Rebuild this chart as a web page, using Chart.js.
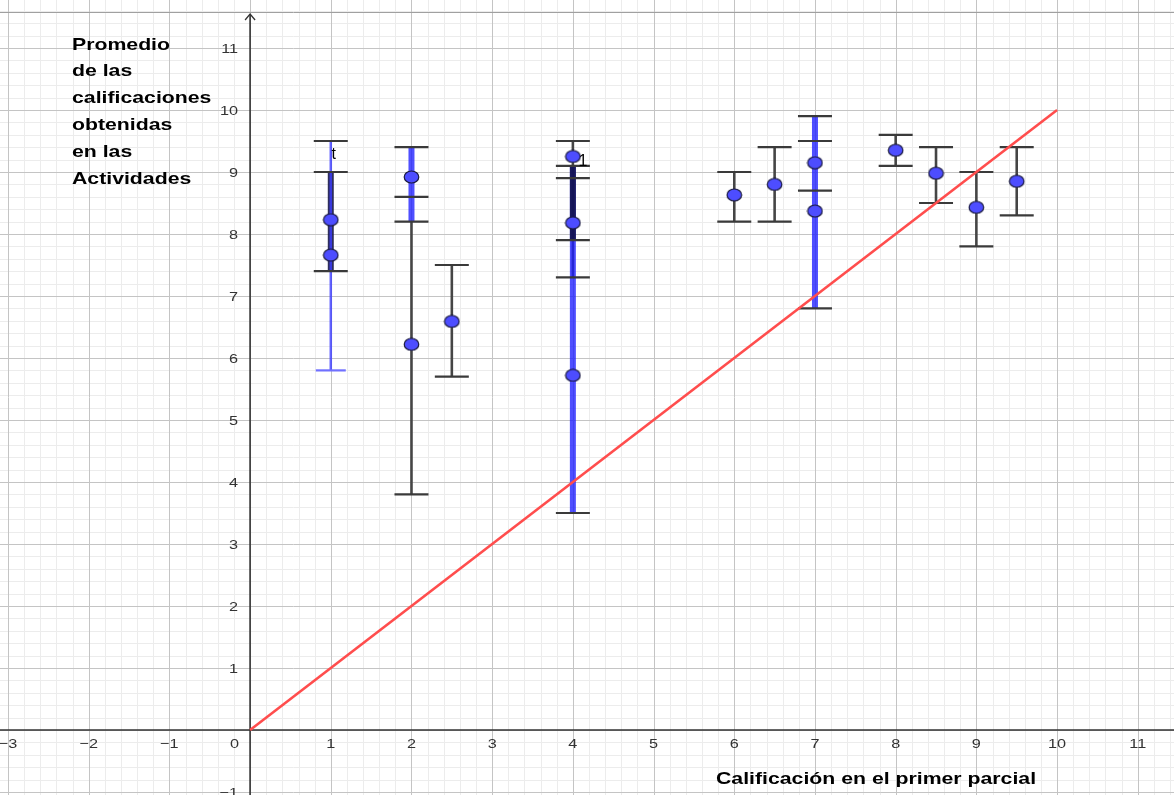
<!DOCTYPE html>
<html><head><meta charset="utf-8">
<script src="https://cdn.jsdelivr.net/npm/chart.js@4/dist/chart.umd.min.js"></script>
<style>html,body{margin:0;padding:0;background:#fff;}canvas{display:block;}</style>
</head><body>
<canvas id="c" width="1174" height="795"></canvas>
<script>
// ---- data ----
const pointX = [1, 1, 2, 2, 2.5, 4, 4, 4, 6, 6.5, 7, 7, 8, 8.5, 9, 9.5];
const pointY = [8.23, 7.66, 8.92, 6.22, 6.59, 9.25, 8.18, 5.72, 8.63, 8.80, 9.15, 8.37, 9.35, 8.98, 8.43, 8.85];

const thinBlueX = [1];
const thinBlueLow = [5.8];
const thinBlueHigh = [9.5];

const thickBlueX = [2, 4, 7];
const thickBlueLow = [8.2, 3.5, 6.8];
const thickBlueHigh = [9.4, 9.1, 9.9];

const darkX = [2, 2.5, 4, 6, 6.5, 8, 8.5, 9, 9.5];
const darkLow = [3.8, 5.7, 7.3, 8.2, 8.2, 9.1, 8.5, 7.8, 8.3];
const darkHigh = [8.2, 7.5, 9.5, 9.0, 9.4, 9.6, 9.4, 9.0, 9.4];

const heavyX = [1, 4];
const heavyLow = [7.4, 7.9];
const heavyHigh = [9.0, 9.1];

const capX = [1, 1, 1, 2, 2, 2, 2, 2.5, 2.5, 4, 4, 4, 4, 4, 4, 6, 6, 6.5, 6.5, 7, 7, 7, 7, 8, 8, 8.5, 8.5, 9, 9, 9.5, 9.5];
const capY = [9.5, 9.0, 7.4, 9.4, 8.6, 8.2, 3.8, 7.5, 5.7, 9.5, 9.1, 8.9, 7.9, 7.3, 3.5, 9.0, 8.2, 9.4, 8.2, 9.9, 9.5, 8.7, 6.8, 9.6, 9.1, 9.4, 8.5, 9.0, 7.8, 9.4, 8.3];
const lightCapX = [1];
const lightCapY = [5.8];

const lineX = [0, 10];
const lineY = [0, 10];

const xTickValues = [-3, -2, -1, 0, 1, 2, 3, 4, 5, 6, 7, 8, 9, 10, 11];
const xTickLabels = ['\u22123', '\u22122', '\u22121', '0', '1', '2', '3', '4', '5', '6', '7', '8', '9', '10', '11'];
const yTickValues = [-1, 1, 2, 3, 4, 5, 6, 7, 8, 9, 10, 11];
const yTickLabels = ['\u22121', '1', '2', '3', '4', '5', '6', '7', '8', '9', '10', '11'];

const yTitleLines = ['Promedio', 'de las', 'calificaciones', 'obtenidas', 'en las', 'Actividades'];
const xTitle = 'Calificación en el primer parcial';
const pointLabels = [{x: 1, y: 9.3, t: 't'}, {x: 4, y: 9.2, t: '1'}];

// ---- point style (ellipse) ----
const dot = document.createElement('canvas');
dot.width = 17; dot.height = 14;
(function(){
  const g = dot.getContext('2d');
  g.beginPath();
  g.ellipse(8.5, 7, 7.3, 6, 0, 0, Math.PI * 2);
  g.fillStyle = '#4d4dff';
  g.fill();
  g.lineWidth = 1.2;
  g.strokeStyle = '#1a1a40';
  g.stroke();
})();

function stretchedText(ctx, text, x, y, font, align, color, sx) {
  ctx.save();
  ctx.font = font;
  ctx.fillStyle = color;
  ctx.textAlign = align;
  ctx.textBaseline = 'alphabetic';
  ctx.translate(x, y);
  ctx.scale(sx, 1);
  ctx.fillText(text, 0, 0);
  ctx.restore();
}

const geoPlugin = {
  id: 'geo',
  beforeDatasetsDraw(chart) {
    const ctx = chart.ctx;
    const xs = chart.scales.x, ys = chart.scales.y;
    const W = chart.width, H = chart.height;
    ctx.save();
    ctx.fillStyle = '#fff';
    ctx.fillRect(0, 0, W, H);
    // minor grid
    ctx.lineWidth = 1;
    ctx.strokeStyle = '#ececec';
    for (let k = Math.ceil(xs.min * 5); k <= Math.floor(xs.max * 5); k++) {
      if (k % 5 === 0) continue;
      const px = Math.round(xs.getPixelForValue(k / 5)) + 0.5;
      ctx.beginPath(); ctx.moveTo(px, 0); ctx.lineTo(px, H); ctx.stroke();
    }
    for (let k = Math.ceil(ys.min * 5); k <= Math.floor(ys.max * 5); k++) {
      if (k % 5 === 0) continue;
      const py = Math.round(ys.getPixelForValue(k / 5)) + 0.5;
      ctx.beginPath(); ctx.moveTo(0, py); ctx.lineTo(W, py); ctx.stroke();
    }
    // major grid
    ctx.strokeStyle = '#c4c4c4';
    for (let k = Math.ceil(xs.min); k <= Math.floor(xs.max); k++) {
      const px = Math.round(xs.getPixelForValue(k)) + 0.5;
      ctx.beginPath(); ctx.moveTo(px, 0); ctx.lineTo(px, H); ctx.stroke();
    }
    for (let k = Math.ceil(ys.min); k <= Math.floor(ys.max); k++) {
      const py = Math.round(ys.getPixelForValue(k)) + 0.5;
      ctx.beginPath(); ctx.moveTo(0, py); ctx.lineTo(W, py); ctx.stroke();
    }
    // top frame line
    ctx.strokeStyle = '#a0a0a0';
    ctx.beginPath(); ctx.moveTo(0, 12.5); ctx.lineTo(W, 12.5); ctx.stroke();
    // axes
    const x0 = xs.getPixelForValue(0), y0 = ys.getPixelForValue(0);
    ctx.strokeStyle = '#333';
    ctx.lineWidth = 1.6;
    ctx.beginPath(); ctx.moveTo(0, y0); ctx.lineTo(W, y0); ctx.stroke();
    ctx.beginPath(); ctx.moveTo(x0, 14); ctx.lineTo(x0, H); ctx.stroke();
    ctx.lineWidth = 1.3;
    ctx.beginPath(); ctx.moveTo(x0 - 5, 20); ctx.lineTo(x0, 14); ctx.lineTo(x0 + 5, 20); ctx.stroke();

    // tick labels
    const tf = '13px "Liberation Sans", Arial, sans-serif';
    xTickValues.forEach((v, i) => {
      const px = xs.getPixelForValue(v);
      if (v === 0) stretchedText(ctx, xTickLabels[i], px - 11, y0 + 18, tf, 'right', '#333', 1.25);
      else stretchedText(ctx, xTickLabels[i], px, y0 + 18, tf, 'center', '#333', 1.25);
    });
    yTickValues.forEach((v, i) => {
      const py = ys.getPixelForValue(v);
      stretchedText(ctx, yTickLabels[i], x0 - 12, py + 5, tf, 'right', '#333', 1.25);
    });

    // titles
    const bf = 'bold 17px "Liberation Sans", Arial, sans-serif';
    yTitleLines.forEach((t, i) => stretchedText(ctx, t, 72, 49.5 + i * 26.9, bf, 'left', '#000', 1.25));
    stretchedText(ctx, xTitle, 716, 784, bf, 'left', '#000', 1.25);

    // error bars
    ctx.lineCap = 'butt';
    const vseg = (xa, lo, hi, width, color) => {
      ctx.lineWidth = width; ctx.strokeStyle = color;
      xa.forEach((x, i) => {
        const px = xs.getPixelForValue(x);
        ctx.beginPath();
        ctx.moveTo(px, ys.getPixelForValue(lo[i]));
        ctx.lineTo(px, ys.getPixelForValue(hi[i]));
        ctx.stroke();
      });
    };
    vseg(darkX, darkLow, darkHigh, 2.6, '#454545');
    vseg(thickBlueX, thickBlueLow, thickBlueHigh, 6, 'rgba(30,30,255,0.78)');
    vseg(heavyX, heavyLow, heavyHigh, 6, 'rgba(18,18,70,0.88)');
    vseg(thinBlueX, thinBlueLow, thinBlueHigh, 2.5, 'rgba(60,60,255,0.8)');
    const caps = (xa, ya, half, width, color) => {
      ctx.lineWidth = width; ctx.strokeStyle = color;
      xa.forEach((x, i) => {
        const px = xs.getPixelForValue(x), py = ys.getPixelForValue(ya[i]);
        ctx.beginPath(); ctx.moveTo(px - half, py); ctx.lineTo(px + half, py); ctx.stroke();
      });
    };
    caps(capX, capY, 17, 2.2, '#3a3a3a');
    caps(lightCapX, lightCapY, 15, 2.2, '#7070ff');

    // small labels
    pointLabels.forEach(p => {
      const px = xs.getPixelForValue(p.x), py = ys.getPixelForValue(p.y);
      stretchedText(ctx, p.t, px + (p.t === 't' ? 3 : 10), py + 6, '16px "Liberation Sans", Arial, sans-serif', 'center', '#000', 1.0);
    });
    ctx.restore();
  }
};

new Chart(document.getElementById('c'), {
  type: 'scatter',
  data: {
    datasets: [
      {
        label: 'Promedios',
        data: pointX.map((x, i) => ({x: x, y: pointY[i]})),
        pointStyle: dot,
        pointRadius: 7,
        showLine: false
      },
      {
        label: 'y = x',
        data: lineX.map((x, i) => ({x: x, y: lineY[i]})),
        showLine: true,
        borderColor: '#ff4d4d',
        borderWidth: 2.6,
        pointRadius: 0,
        fill: false
      }
    ]
  },
  options: {
    responsive: false,
    devicePixelRatio: 1,
    animation: false,
    layout: {padding: 0, autoPadding: false},
    plugins: {legend: {display: false}, tooltip: {enabled: false}, title: {display: false}},
    scales: {
      x: {type: 'linear', min: -3.099, max: 11.449, display: false},
      y: {type: 'linear', min: -1.048, max: 11.774, display: false}
    }
  },
  plugins: [geoPlugin]
});
</script>
</body></html>
